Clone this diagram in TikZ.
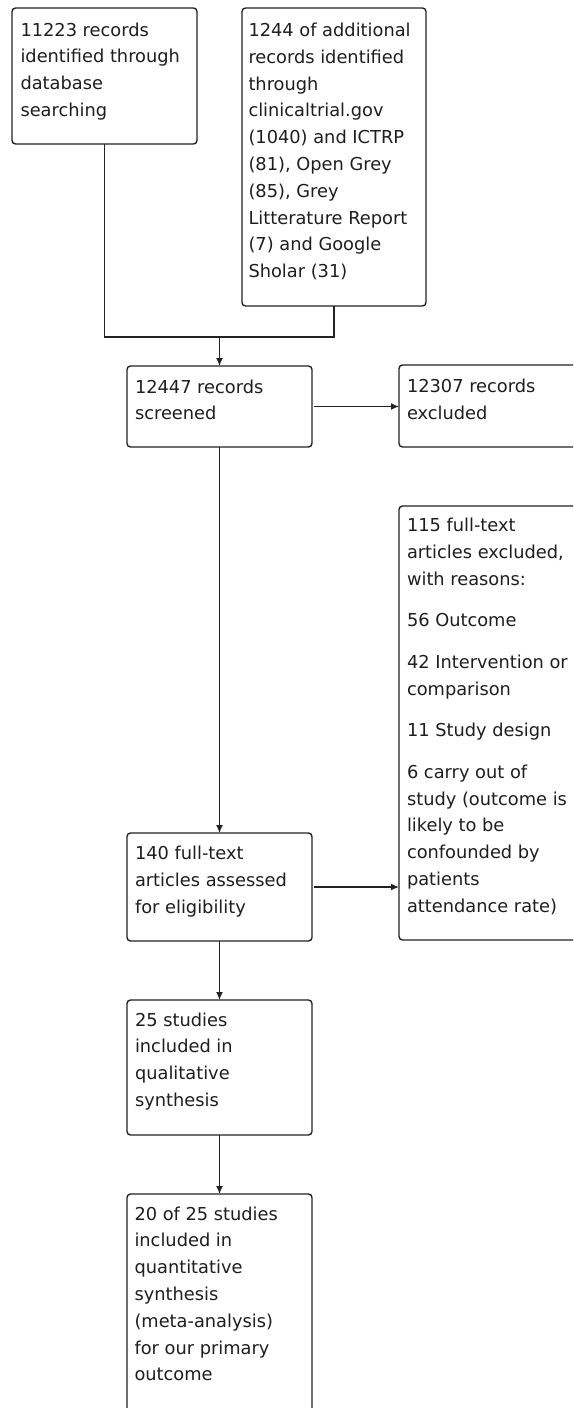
\documentclass[tikz,border=0pt]{standalone}
\usepackage{fontspec}
\setmainfont{DejaVu Sans}
\usetikzlibrary{arrows.meta}
\definecolor{ln}{RGB}{35,35,35}
\definecolor{tx}{RGB}{30,30,30}
\tikzset{
  box/.style={draw=ln, line width=1.4pt, rounded corners=3.5pt, rectangle, inner sep=0pt, outer sep=0pt, anchor=north west},
  txt/.style={anchor=north west, inner sep=0pt, outer sep=0pt, align=left, text=tx,
    font=\fontsize{17.8}{26.8}\selectfont, execute at begin node={\rule{0pt}{15pt}}},
  conn/.style={draw=ln, line width=1.4pt},
  arr/.style={conn, -{Latex[length=8pt,width=7pt]}}
}
\begin{document}
\begin{tikzpicture}[x=1pt,y=-1pt]
\useasboundingbox (0,0) rectangle (573,1408);
\clip (0,0) rectangle (573,1408);
% boxes
\node[box, minimum width=185, minimum height=136] (b1) at (12,8) {};
\node[box, minimum width=184, minimum height=298] (b2) at (242,8) {};
\node[box, minimum width=185, minimum height=81] (b3) at (127,366) {};
\node[box, minimum width=185, minimum height=82] (b4) at (399,365) {};
\node[box, minimum width=185, minimum height=434] (b5) at (399,506) {};
\node[box, minimum width=185, minimum height=108] (b6) at (127,833) {};
\node[box, minimum width=185, minimum height=135] (b7) at (127,1000) {};
\node[box, minimum width=185, minimum height=240] (b8) at (127,1194) {};
% texts
\node[txt] (t1) at ([shift={(8.5,14.5)}]b1.north west) {11223 records\\identified through\\database\\searching};
\node[txt] (t2) at ([shift={(6.5,15)}]b2.north west) {1244 of additional\\records identified\\through\\clinicaltrial.gov\\(1040) and ICTRP\\(81), Open Grey\\(85), Grey\\Litterature Report\\(7) and Google\\Sholar (31)};
\node[txt] (t3) at ([shift={(8,13.5)}]b3.north west) {12447 records\\screened};
\node[txt] (t4) at ([shift={(8,14)}]b4.north west) {12307 records\\excluded};
\node[txt] (t5) at ([shift={(8,12)}]b5.north west) {115 full-text\\articles excluded,\\with reasons:\\[14.8pt]56 Outcome\\[14.8pt]42 Intervention or\\comparison\\[14.8pt]11 Study design\\[14.8pt]6 carry out of\\study (outcome is\\likely to be\\confounded by\\patients\\attendance rate)};
\node[txt] (t6) at ([shift={(8,13)}]b6.north west) {140 full-text\\articles assessed\\for eligibility};
\node[txt] (t7) at ([shift={(8,12.5)}]b7.north west) {25 studies\\included in\\qualitative\\synthesis};
\node[txt] (t8) at ([shift={(7.5,12.5)}]b8.north west) {20 of 25 studies\\included in\\quantitative\\synthesis\\(meta-analysis)\\for our primary\\outcome};
% connectors
\coordinate (j) at (219.5,337);
\draw[conn] (b1.south) |- (j) -| (b2.south);
\draw[arr] (j) -- (b3.north);
\draw[arr] ([xshift=2]b3.east) -- (b3.east -| b4.west);
\draw[arr] (b3.south) -- (b6.north);
\draw[arr] ([xshift=2]b6.east) -- (b6.east -| b5.west);
\draw[arr] (b6.south) -- (b7.north);
\draw[arr] (b7.south) -- (b8.north);
\end{tikzpicture}
\end{document}
